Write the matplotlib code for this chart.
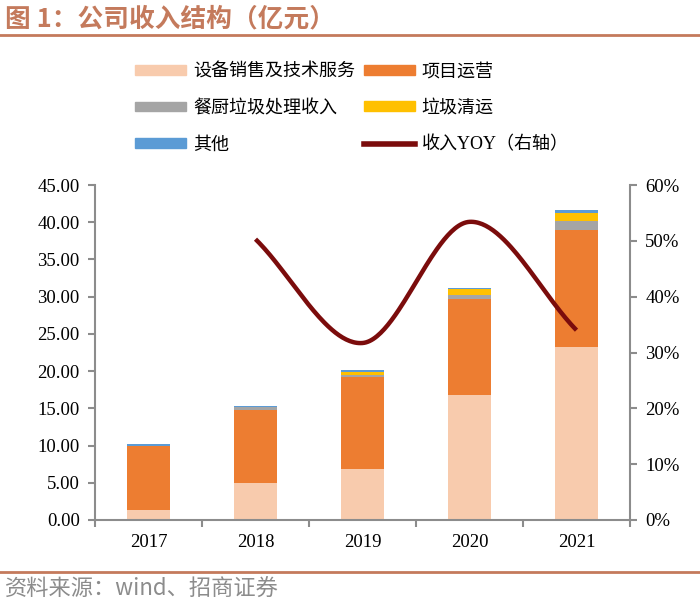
import numpy as np
import matplotlib.pyplot as plt
from matplotlib.patches import Patch
from matplotlib.lines import Line2D
from matplotlib.ticker import FuncFormatter, FixedLocator

plt.rcParams['font.family'] = ['Liberation Serif', 'Noto Sans CJK SC', 'DejaVu Sans']

# 数据（亿元）
years = ['2017', '2018', '2019', '2020', '2021']
equip = [1.4, 5.0, 6.9, 16.8, 23.3]        # 设备销售及技术服务
project = [8.6, 9.8, 12.3, 12.9, 15.6]     # 项目运营
kitchen = [0.0, 0.4, 0.3, 0.5, 1.3]        # 餐厨垃圾处理收入
clean = [0.0, 0.0, 0.35, 0.8, 1.0]         # 垃圾清运
other = [0.25, 0.15, 0.3, 0.15, 0.4]       # 其他
yoy_years = [1, 2, 3, 4]
yoy = [0.503, 0.317, 0.534, 0.340]         # 收入YOY（右轴）

colors = ['#F8CBAD', '#ED7D31', '#A5A5A5', '#FFC000', '#5B9BD5']
names = ['设备销售及技术服务', '项目运营', '餐厨垃圾处理收入', '垃圾清运', '其他']
line_color = '#7B0C0C'
brand = '#C47A5C'
spine_c = '#8C8C8C'


def smooth(xs, ys, n=60):
    # 类似 Excel 平滑线：Catmull-Rom 曲线
    xs = np.asarray(xs, float)
    ys = np.asarray(ys, float)
    px = np.concatenate([[2 * xs[0] - xs[1]], xs, [2 * xs[-1] - xs[-2]]])
    py = np.concatenate([[2 * ys[0] - ys[1]], ys, [2 * ys[-1] - ys[-2]]])
    outx, outy = [], []
    for i in range(1, len(px) - 2):
        t = np.linspace(0, 1, n)
        p0, p1, p2, p3 = [np.array([px[j], py[j]]) for j in range(i - 1, i + 3)]
        c1 = p1 + (p2 - p0) / 6
        c2 = p2 - (p3 - p1) / 6
        pts = ((1 - t) ** 3)[:, None] * p1 + (3 * (1 - t) ** 2 * t)[:, None] * c1 \
            + (3 * (1 - t) * t ** 2)[:, None] * c2 + (t ** 3)[:, None] * p2
        outx.extend(pts[:, 0])
        outy.extend(pts[:, 1])
    return outx, outy


fig = plt.figure(figsize=(7, 6.04), dpi=100)
ax = fig.add_axes([95 / 700, 1 - 520 / 604, 535 / 700, 335 / 604])

x = np.arange(len(years))
bottom = np.zeros(len(years))
for vals, c in zip([equip, project, kitchen, clean, other], colors):
    ax.bar(x, vals, 0.4, bottom=bottom, color=c, zorder=2)
    bottom += np.array(vals)

ax.set_xlim(-0.5, 4.5)
ax.set_ylim(0, 45)
ax.set_yticks(np.arange(0, 45.1, 5))
ax.yaxis.set_major_formatter(FuncFormatter(lambda v, p: '%.2f' % v))
ax.xaxis.set_major_locator(FixedLocator(np.arange(-0.5, 4.6, 1)))
ax.xaxis.set_major_formatter(FuncFormatter(lambda v, p: ''))
ax.set_xticks(x, minor=True)
ax.set_xticklabels(years, minor=True)
ax.tick_params(axis='x', which='minor', length=0, pad=10, labelsize=13.5)
ax.tick_params(axis='x', which='major', length=5, width=1.5, color=spine_c)
ax.tick_params(axis='y', length=5, width=1.5, color=spine_c, labelsize=13.5, pad=6)
for s in ['top', 'right']:
    ax.spines[s].set_visible(False)
for s in ['left', 'bottom']:
    ax.spines[s].set_color(spine_c)
    ax.spines[s].set_linewidth(1.5)

ax2 = ax.twinx()
sx, sy = smooth(yoy_years, yoy)
ax2.plot(sx, sy, color=line_color, lw=3.2, solid_capstyle='butt')
ax2.set_ylim(0, 0.6)
ax2.set_yticks(np.arange(0, 0.61, 0.1))
ax2.yaxis.set_major_formatter(FuncFormatter(lambda v, p: '%d%%' % round(v * 100)))
ax2.tick_params(axis='y', length=5, width=1.5, color=spine_c, labelsize=13.5, pad=6)
for s in ['top', 'left', 'bottom']:
    ax2.spines[s].set_visible(False)
ax2.spines['right'].set_color(spine_c)
ax2.spines['right'].set_linewidth(1.5)

handles = [Patch(color=colors[0]), Patch(color=colors[2]), Patch(color=colors[4]),
           Patch(color=colors[1]), Patch(color=colors[3]), Line2D([], [], color=line_color, lw=4)]
labels = [names[0], names[2], names[4], names[1], names[3], '收入YOY（右轴）']
fig.legend(handles, labels, ncol=2, loc='upper left', bbox_to_anchor=(128 / 700, 1 - 56 / 604),
           frameon=False, fontsize=13, handlelength=2.8, handleheight=0.45,
           handletextpad=0.4, columnspacing=0.5, labelspacing=1.08, borderaxespad=0)

fig.text(5 / 700, 1 - 19 / 604, '图 1：公司收入结构（亿元）', color=brand, fontsize=18.5,
         fontweight='bold', va='center', family=['Noto Sans CJK SC', 'DejaVu Sans'])
fig.add_artist(Line2D([0, 1], [1 - 35 / 604, 1 - 35 / 604], color=brand, lw=2))
fig.add_artist(Line2D([0, 1], [1 - 572 / 604, 1 - 572 / 604], color=brand, lw=2))
fig.text(5 / 700, 1 - 589 / 604, '资料来源：wind、招商证券', color='#8C8C8C', fontsize=16,
         va='center', family=['Noto Sans CJK SC', 'DejaVu Sans'])

fig.savefig('out.png', dpi=100)
